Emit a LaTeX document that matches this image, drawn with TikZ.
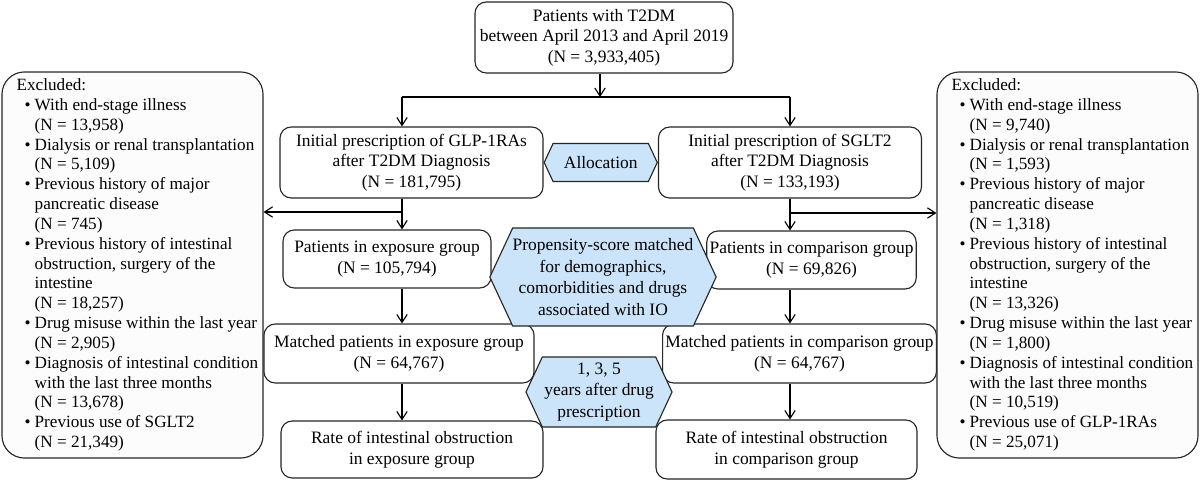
\documentclass[tikz,border=0pt]{standalone}
\usepackage{fontspec}
\setmainfont{Liberation Serif}
\usepackage{xcolor}
\usepackage{tikz}
\usetikzlibrary{arrows.meta, positioning, shapes.symbols}

\definecolor{hexblue}{RGB}{204,228,250}
\newcommand{\pad}{\hspace*{7pt}}
\newcommand{\bul}{\hspace*{12.7pt}\makebox[7.1pt][l]{\textbullet}}
\newcommand{\ind}{\hspace*{19.8pt}}

\begin{document}
\begin{tikzpicture}[
    x=0.025cm, y=-0.025cm,
    box/.style={rectangle, draw=black!85, line width=0.8pt, rounded corners=8pt, fill=white, align=center, font=\fontsize{12.4}{14.7}\selectfont, inner sep=2pt},
    hexa/.style={signal, signal to=west and east, signal pointer angle=130, draw=black!85, line width=0.8pt, fill=hexblue, align=center, font=\fontsize{12.4}{15.3}\selectfont, inner sep=0pt},
    excl/.style={rectangle, draw=black!85, line width=0.8pt, rounded corners=16pt, fill=black!1, align=left, font=\fontsize{12.2}{14.1}\selectfont, minimum width=6.525cm, minimum height=9.65cm},
    arr/.style={-{Straight Barb[length=2mm, width=2.6mm]}, line width=0.8pt}
]
\useasboundingbox (0,0) rectangle (1200,481);

\node[box, minimum width=6.45cm, minimum height=1.775cm] (top) at (604,37.5) {Patients with T2DM\\between April 2013 and April 2019\\(N = 3,933,405)};
\node[box, minimum width=6.575cm, minimum height=1.775cm] (glp) at (411.5,162.5) {Initial prescription of GLP-1RAs\\after T2DM Diagnosis\\(N = 181,795)};
\node[hexa, right=0pt of glp, minimum width=2.825cm, minimum height=0.95cm] (alloc) {Allocation};
\node[box, right=0pt of alloc, minimum width=6.575cm, minimum height=1.775cm] (sglt) {Initial prescription of SGLT2\\after T2DM Diagnosis\\(N = 133,193)};

\node[box, minimum width=5.2cm, minimum height=1.45cm] (expo) at (387,259) {Patients in exposure group\\(N = 105,794)};
\node[box, minimum width=5.225cm, minimum height=1.45cm] (comp) at (811.5,260) {Patients in comparison group\\(N = 69,826)};
\node[box, minimum width=6.75cm, minimum height=1.475cm] (mexpo) at (399,353.5) {Matched patients in exposure group\\(N = 64,767)};
\node[box, minimum width=6.725cm, minimum height=1.475cm] (mcomp) at (799.5,353.5) {Matched patients in comparison group\\(N = 64,767)};
\node[box, minimum width=6.55cm, minimum height=1.425cm] (rexpo) at (412,449.5) {Rate of intestinal obstruction\\in exposure group};
\node[box, minimum width=6.525cm, minimum height=1.475cm] (rcomp) at (786.5,449.5) {Rate of intestinal obstruction\\in comparison group};

\node[hexa, minimum width=5.5cm, minimum height=2.45cm] (prop) at (603,277) {Propensity-score matched\\for demographics,\\comorbidities and drugs\\associated with IO};
\node[hexa, minimum width=3.65cm, minimum height=1.75cm] (years) at (599,392) {1, 3, 5\\years after drug\\prescription};

\node[excl] (exl) at (132.5,265) {\pad Excluded:\\
\bul With end-stage illness\\ \ind(N = 13,958)\\
\bul Dialysis or renal transplantation\\ \ind(N = 5,109)\\
\bul Previous history of major\\ \ind pancreatic disease\\ \ind(N = 745)\\
\bul Previous history of intestinal\\ \ind obstruction, surgery of the\\ \ind intestine\\ \ind(N = 18,257)\\
\bul Drug misuse within the last year\\ \ind(N = 2,905)\\
\bul Diagnosis of intestinal condition\\ \ind with the last three months\\ \ind(N = 13,678)\\
\bul Previous use of SGLT2\\ \ind(N = 21,349)};
\node[excl] (exr) at (1067.5,265) {\pad Excluded:\\
\bul With end-stage illness\\ \ind(N = 9,740)\\
\bul Dialysis or renal transplantation\\ \ind(N = 1,593)\\
\bul Previous history of major\\ \ind pancreatic disease\\ \ind(N = 1,318)\\
\bul Previous history of intestinal\\ \ind obstruction, surgery of the\\ \ind intestine\\ \ind(N = 13,326)\\
\bul Drug misuse within the last year\\ \ind(N = 1,800)\\
\bul Diagnosis of intestinal condition\\ \ind with the last three months\\ \ind(N = 10,519)\\
\bul Previous use of GLP-1RAs\\ \ind(N = 25,071)};

% branch points
\coordinate (split) at (600,97);
\coordinate (lx) at (402,97);
\coordinate (rx) at (790,97);
\coordinate (lout) at (402,212);
\coordinate (rout) at (790,213);

\draw[arr] (top.south -| split) -- (split);
\draw[line width=0.8pt] (lx) -- (rx);
\draw[arr] (lx) -- (glp.north -| lx);
\draw[arr] (rx) -- (sglt.north -| rx);
\draw[arr] (glp.south -| lx) -- (expo.north -| lx);
\draw[arr] (sglt.south -| rx) -- (comp.north -| rx);
\draw[arr] (lout) -- (lout -| exl.east);
\draw[arr] (rout) -- (rout -| exr.west);
\draw[arr] (expo.south -| lx) -- (mexpo.north -| lx);
\draw[arr] (comp.south -| rx) -- (mcomp.north -| rx);
\draw[arr] (mexpo.south -| lx) -- (rexpo.north -| lx);
\draw[arr] (mcomp.south -| rx) -- (rcomp.north -| rx);
\end{tikzpicture}
\end{document}
